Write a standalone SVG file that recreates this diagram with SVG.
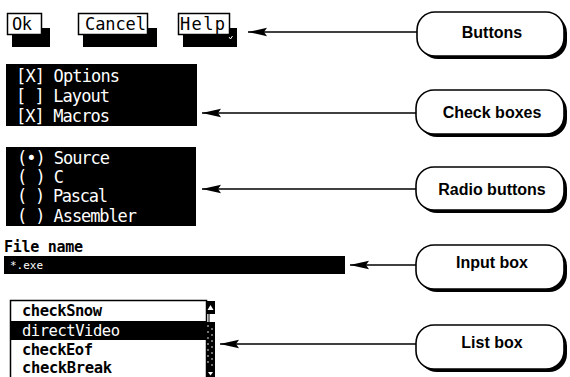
<svg xmlns="http://www.w3.org/2000/svg" width="570" height="377" viewBox="0 0 570 377">
<defs>
<style>
.mono{font-family:"DejaVu Sans Mono","Liberation Mono",monospace;font-size:17px}
.lst{font-family:"DejaVu Sans Mono","Liberation Mono",monospace;font-size:15.5px}
.w{fill:#fff}
.k{fill:#000}
.lbl{font-family:"Liberation Sans",Arial,sans-serif;font-weight:bold;font-size:16px;text-anchor:middle;fill:#000}
.co{fill:#fff;stroke:#000;stroke-width:1.6}
.sh{fill:#000}
.ln{stroke:#000;stroke-width:1.6;fill:none}
</style>
<marker id="ah" markerWidth="20" markerHeight="10" refX="19" refY="5" orient="auto" markerUnits="userSpaceOnUse">
<path d="M0,0.8 L19,5 L0,9.2 L3,5 Z" fill="#000"/>
</marker>
</defs>
<rect width="570" height="377" fill="#fff"/>

<g id="buttons">
<rect x="12" y="28" width="38" height="19" class="k"/>
<rect x="7.5" y="13.5" width="34" height="21" fill="#fff" stroke="#000" stroke-width="1.5"/>
<text x="12" y="30" class="mono" textLength="20">Ok</text>
<rect x="83" y="28" width="74" height="19" class="k"/>
<rect x="78.5" y="13.5" width="69" height="21" fill="#fff" stroke="#000" stroke-width="1.5"/>
<text x="85" y="30" class="mono" textLength="61">Cancel</text>
<rect x="183" y="28" width="54" height="19" class="k"/>
<rect x="178.5" y="13.5" width="51" height="21" fill="#fff" stroke="#000" stroke-width="1.5"/>
<text x="180" y="30" class="mono" textLength="45">Help</text>
<path d="M229,37 l1.5,2 l2,-3" stroke="#fff" stroke-width="1" fill="none"/>
</g>

<g id="checkboxes">
<rect x="6" y="64" width="191" height="62" class="k"/>
<text x="16" y="82" class="mono w" textLength="104">[X] Options</text>
<text x="16" y="102" class="mono w" textLength="94" xml:space="preserve">[ ] Layout</text>
<text x="16" y="122" class="mono w" textLength="94">[X] Macros</text>
</g>

<g id="radiobuttons">
<rect x="6" y="147" width="190" height="79" class="k"/>
<text x="17" y="164" class="mono w" textLength="93">(•) Source</text>
<text x="17" y="183" class="mono w" xml:space="preserve" textLength="47">( ) C</text>
<text x="17" y="202" class="mono w" xml:space="preserve" textLength="91">( ) Pascal</text>
<text x="17" y="222" class="mono w" xml:space="preserve" textLength="120">( ) Assembler</text>
</g>

<g id="inputbox">
<text x="4" y="252" font-family="DejaVu Sans Mono,monospace" font-weight="bold" font-size="15" textLength="79">File name</text>
<rect x="4" y="256" width="341" height="18" class="k"/>
<text x="10" y="269" font-family="DejaVu Sans Mono,monospace" font-size="11" fill="#fff">*.exe</text>
</g>

<g id="listbox">
<rect x="10.5" y="300.5" width="196" height="80" fill="#fff" stroke="#000" stroke-width="1.5"/>
<rect x="11" y="321" width="195" height="19" class="k"/>
<text x="22" y="316" class="lst" font-weight="bold" textLength="80">checkSnow</text>
<text x="22" y="336" class="lst w" textLength="98">directVideo</text>
<text x="22" y="355" class="lst" font-weight="bold" textLength="71">checkEof</text>
<text x="22" y="373" class="lst" font-weight="bold" textLength="90">checkBreak</text>
<rect x="206" y="301" width="9" height="13" class="k"/>
<path d="M210.5,305 l-3,5 h6 z" fill="#fff"/>
<line x1="209" y1="314" x2="209" y2="322" stroke="#000" stroke-width="1"/>
<rect x="206" y="322" width="9" height="48" class="k"/>
<g fill="#fff">
<circle cx="208" cy="326" r="0.8"/><circle cx="212" cy="329" r="0.8"/><circle cx="208" cy="332" r="0.8"/><circle cx="212" cy="335" r="0.8"/><circle cx="208" cy="338" r="0.8"/><circle cx="212" cy="341" r="0.8"/><circle cx="208" cy="344" r="0.8"/><circle cx="212" cy="347" r="0.8"/><circle cx="208" cy="350" r="0.8"/><circle cx="212" cy="353" r="0.8"/><circle cx="208" cy="356" r="0.8"/><circle cx="212" cy="359" r="0.8"/><circle cx="208" cy="362" r="0.8"/><circle cx="212" cy="365" r="0.8"/>
</g>
<rect x="206" y="370" width="9" height="7" class="k"/>
<path d="M208,372 h5 l-2.5,3.5 z" fill="#fff"/>
</g>

<g id="connectors">
<line x1="417" y1="32" x2="248" y2="32" class="ln" marker-end="url(#ah)"/>
<line x1="416" y1="113" x2="202" y2="113" class="ln" marker-end="url(#ah)"/>
<line x1="416" y1="189" x2="202" y2="189" class="ln" marker-end="url(#ah)"/>
<line x1="416" y1="265" x2="350" y2="265" class="ln" marker-end="url(#ah)"/>
<line x1="416" y1="344" x2="220" y2="344" class="ln" marker-end="url(#ah)"/>
</g>

<g id="callout-buttons">
<rect x="420" y="15" width="147" height="44" rx="18" class="sh"/>
<rect x="417" y="12" width="147" height="44" rx="18" class="co"/>
<text x="492" y="38" class="lbl">Buttons</text>
</g>
<g id="callout-checkboxes">
<rect x="419" y="93" width="148" height="44" rx="18" class="sh"/>
<rect x="416" y="90" width="148" height="44" rx="18" class="co"/>
<text x="492" y="118" class="lbl">Check boxes</text>
</g>
<g id="callout-radiobuttons">
<rect x="419" y="170" width="148" height="43" rx="18" class="sh"/>
<rect x="416" y="167" width="148" height="43" rx="18" class="co"/>
<text x="492" y="195" class="lbl">Radio buttons</text>
</g>
<g id="callout-inputbox">
<rect x="419" y="248" width="148" height="44" rx="18" class="sh"/>
<rect x="416" y="245" width="148" height="44" rx="18" class="co"/>
<text x="492" y="268" class="lbl">Input box</text>
</g>
<g id="callout-listbox">
<rect x="419" y="328" width="148" height="44" rx="18" class="sh"/>
<rect x="416" y="325" width="148" height="44" rx="18" class="co"/>
<text x="492" y="348" class="lbl">List box</text>
</g>
</svg>
